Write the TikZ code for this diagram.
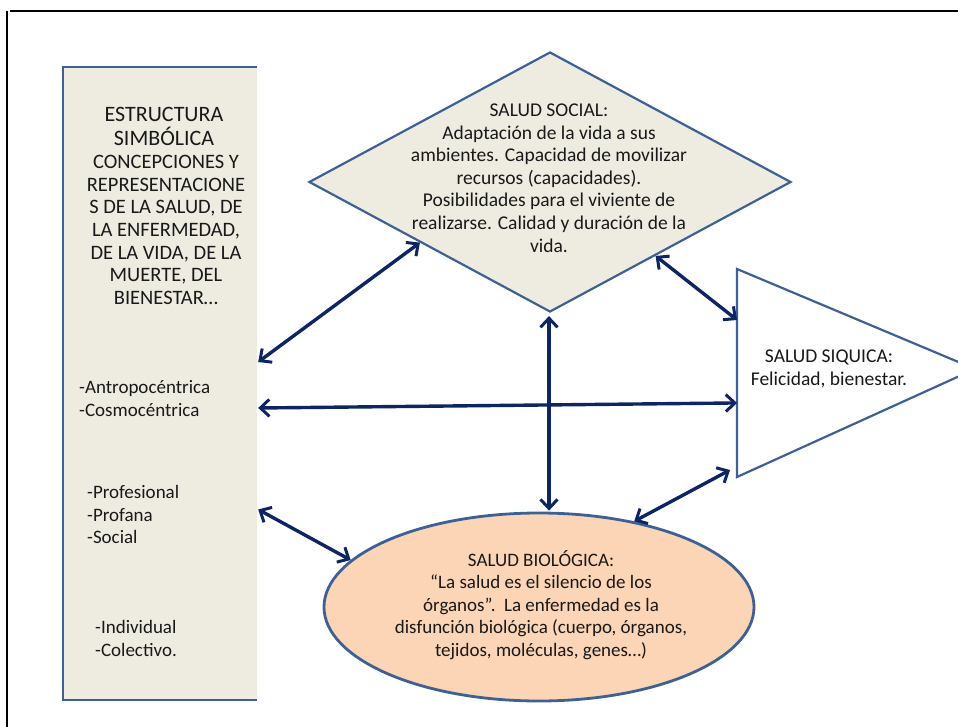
\documentclass[tikz,border=0pt]{standalone}
\usepackage{fontspec}
\setmainfont{Carlito}
\usetikzlibrary{shapes.geometric,arrows.meta,calc}
\definecolor{boxfill}{HTML}{EEECE1}
\definecolor{boxline}{HTML}{3E6195}
\definecolor{arrcol}{HTML}{0E2563}
\definecolor{biofill}{HTML}{FBD5B5}
\tikzset{
  frameline/.style={line width=2.4pt,black},
  edgeline/.style={line width=2.2pt,boxline},
  link/.style={line width=3.4pt,arrcol,{Straight Barb[length=9pt,width=17pt,line width=3pt]}-{Straight Barb[length=9pt,width=17pt,line width=3pt]}},
  body/.style={font=\fontsize{19.5}{22.6}\selectfont,align=center,inner sep=0pt,text=black!90},
  lst/.style={font=\fontsize{19}{22.7}\selectfont,align=left,inner sep=0pt,anchor=west,text=black!90}
}
\begin{document}
\begin{tikzpicture}[x=1pt,y=-1pt]
\useasboundingbox (0,0) rectangle (958,727);
\clip (0,0) rectangle (958,727);
% frame
\draw[frameline] (10,11) -- (958,11);
\draw[frameline] (7,11) -- (7,727);
% left box
\node[rectangle,fill=boxfill,minimum width=194pt,minimum height=633pt,inner sep=0pt] (lbox) at (160,383.5) {};
\draw[edgeline] (lbox.north east) -- (lbox.north west) -- (lbox.south west) -- (lbox.south east);
\node[body,font=\fontsize{22}{24}\selectfont] (head) at (164,126) {ESTRUCTURA\\SIMBÓLICA};
\node[body,font=\fontsize{20.5}{22.7}\selectfont] (conc) at (166,230) {CONCEPCIONES Y\\REPRESENTACIONE\\S DE LA SALUD, DE\\LA ENFERMEDAD,\\DE LA VIDA, DE LA\\MUERTE, DEL\\BIENESTAR…};
\node[lst] (l1) at (79,398.5) {-Antropocéntrica\\-Cosmocéntrica};
\node[lst] (l2) at (87,514.5) {-Profesional\\-Profana\\-Social};
\node[lst] (l3) at (95,638.5) {-Individual\\-Colectivo.};
% diamond
\node[diamond,draw=boxline,line width=2.2pt,fill=boxfill,minimum width=482pt,minimum height=260pt,inner sep=0pt] (soc) at (550,182) {};
\node[body] (socT) at (549,178) {SALUD SOCIAL:\\Adaptación de la vida a sus\\ambientes. Capacidad de movilizar\\recursos (capacidades).\\Posibilidades para el viviente de\\realizarse. Calidad y duración de la\\vida.};
% triangle
\coordinate (ta) at (737,269);
\coordinate (tb) at (737,477);
\coordinate (tc) at (975,369);
\draw[edgeline,fill=white,line join=miter] (ta) -- (tc) -- (tb) -- cycle;
\node[body] (psi) at (829,369) {SALUD SIQUICA:\\Felicidad, bienestar.};
% ellipse
\node[ellipse,draw=boxline,line width=2.8pt,fill=biofill,minimum width=430pt,minimum height=188pt,inner sep=0pt] (bio) at (539,607) {};
\node[body,font=\fontsize{19}{22.6}\selectfont] (bioT) at (541,605) {SALUD BIOLÓGICA:\\“La salud es el silencio de los\\órganos”.\ \ La enfermedad es la\\disfunción biológica (cuerpo, órganos,\\tejidos, moléculas, genes…)};
% connectors
\draw[link] ($(lbox.east)+(1,-21.5)$) -- (soc.205);
\draw[link] ($(lbox.east)+(1,24.5)$) -- ($(ta)!0.644!(tb)$);
\draw[link] ($(lbox.east)+(1,126)$) -- (bio.166);
\draw[link] ($(soc.south)+(-1,3)$) -- ($(soc.south |- bio.north)+(-1,-1)$);
\draw[link] (soc.325) -- ($(ta)!0.245!(tb)$);
\draw[link] ($(tb)+(-7,-7)$) -- (bio.42);
\end{tikzpicture}
\end{document}
